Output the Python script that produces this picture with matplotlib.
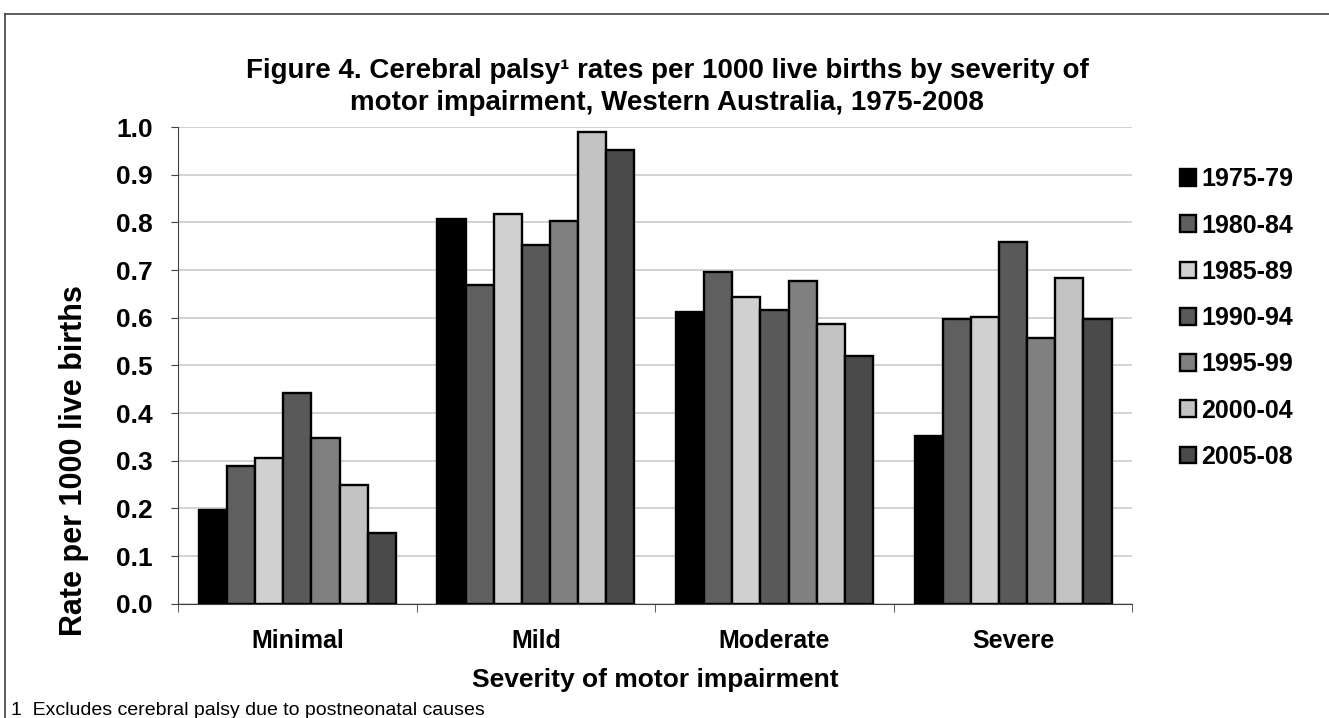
import numpy as np
import matplotlib
matplotlib.use("Agg")
import matplotlib.pyplot as plt
from matplotlib.lines import Line2D

plt.rcParams['font.family'] = ['Liberation Sans', 'DejaVu Sans']

categories = ["Minimal", "Mild", "Moderate", "Severe"]
periods = ["1975-79", "1980-84", "1985-89", "1990-94", "1995-99", "2000-04", "2005-08"]
rates = [
    [0.196, 0.807, 0.612, 0.351],  # 1975-79
    [0.290, 0.668, 0.696, 0.597],  # 1980-84
    [0.305, 0.817, 0.643, 0.601],  # 1985-89
    [0.443, 0.752, 0.617, 0.759],  # 1990-94
    [0.347, 0.803, 0.677, 0.558],  # 1995-99
    [0.250, 0.990, 0.587, 0.684],  # 2000-04
    [0.148, 0.951, 0.519, 0.597],  # 2005-08
]
colors = ["#000000", "#5f5f5f", "#d0d0d0", "#595959", "#808080", "#c3c3c3", "#4a4a4a"]

fig = plt.figure(figsize=(13.29, 7.18), dpi=100)
ax = fig.add_axes([0.134, 0.159, 0.718, 0.664])

x = np.arange(len(categories))
bw = 0.118
n = len(periods)
for i, (p, vals, c) in enumerate(zip(periods, rates, colors)):
    ax.bar(x + (i - (n - 1) / 2) * bw, vals, bw, color=c, edgecolor="black",
           linewidth=1.7, label=p, zorder=3)

ax.set_xlim(-0.5, len(categories) - 0.5)
ax.set_ylim(0, 1.0)
yt = np.arange(0, 1.01, 0.1)
ax.set_yticks(yt)
ax.set_yticklabels([f"{v:.1f}" for v in yt], fontsize=19, fontweight="bold")
ax.set_xticks(x)
ax.set_xticklabels(categories, fontsize=18, fontweight="bold")
ax.tick_params(axis="x", length=0, pad=18)
ax.set_xticks(np.arange(-0.5, len(categories), 1), minor=True)
ax.tick_params(axis="x", which="minor", length=6, direction="out", color="#404040")
ax.tick_params(axis="y", length=5, direction="out", color="#404040", pad=13)
ax.yaxis.grid(True, color="#cfcfcf", linewidth=1.3, zorder=0)
for s in ["top", "right"]:
    ax.spines[s].set_visible(False)
ax.spines["left"].set_color("#404040")
ax.spines["bottom"].set_color("#404040")

ax.set_ylabel("Rate per 1000 live births", fontsize=22, fontweight="bold")
ax.yaxis.set_label_coords(-0.093, 0.30)
ax.set_xlabel("Severity of motor impairment", fontsize=19, fontweight="bold", labelpad=11)

fig.text(0.502, 0.8795, "Figure 4. Cerebral palsy\u00b9 rates per 1000 live births by severity of\n"
         "motor impairment, Western Australia, 1975-2008",
         ha="center", va="center", fontsize=20, fontweight="bold", linespacing=1.3)

leg = ax.legend(loc="upper left", bbox_to_anchor=(0.888, 0.767),
                bbox_transform=fig.transFigure, frameon=False,
                prop={"size": 18, "weight": "bold"}, handlelength=0.65, handleheight=0.65,
                handletextpad=0.2, labelspacing=0.89, borderpad=0, borderaxespad=0)

fig.text(0.008, 0.004, "1  Excludes cerebral palsy due to postneonatal causes",
         fontsize=14, ha="left", va="baseline")

# outer frame of the figure (top and left edges)
fig.add_artist(Line2D([0.004, 1], [0.981, 0.981], color="#404040", linewidth=1.2,
                      transform=fig.transFigure))
fig.add_artist(Line2D([0.004, 0.004], [0, 0.981], color="#404040", linewidth=1.2,
                      transform=fig.transFigure))

fig.savefig("out.png", dpi=100)
